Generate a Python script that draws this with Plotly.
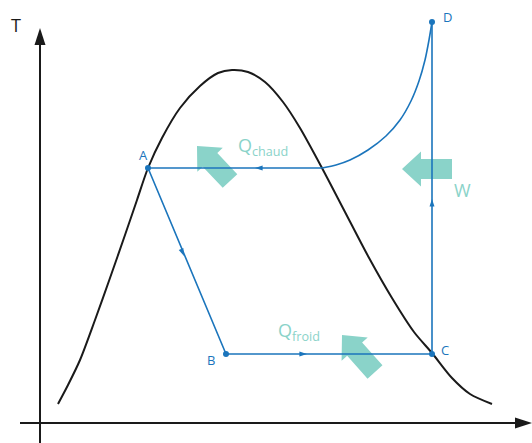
import math
import plotly.graph_objects as go

# Canvas size; one data unit equals one pixel on both axes
W_PX, H_PX = 532, 443

BLUE = "#1B75BC"
TEAL = "#8AD3C9"
BLACK = "#1A1A1A"
FONT = "Open Sans, Noto Sans, sans-serif"

# Saturation dome (s, T)
dome_s = [58, 68, 80, 95, 110, 125, 137, 148, 162, 180, 200, 218, 232, 248, 265,
          283, 300, 322, 345, 368, 392, 414, 432, 452, 470, 492]
dome_T = [39, 58, 83, 123, 165, 208, 243, 275, 305, 335, 357, 370, 373, 371, 361,
          341, 315, 275, 231, 187, 145, 111, 90, 65, 49, 39]

# Cycle state points
state_names = ["A", "B", "C", "D"]
state_s = [148, 226, 432, 432]
state_T = [275, 89, 89, 421]

# Desuperheating curve from D down to the saturated-vapour point E
superheat_s = [432, 429, 425, 419, 411, 400, 386, 368, 350, 336, 322]
superheat_T = [421, 403, 383, 362, 342, 323, 307, 293, 283, 278, 275]

# Direction markers on the cycle: (s, T) and segment each one follows
flow_s = [184, 307, 255, 432]
flow_T = [187, 89, 275, 244]
flow_seg = [("A", "B"), ("B", "C"), ("E", "A"), ("C", "D")]

# Heat / work exchange arrows: tip and tail
exch_labels = ["Q<sub>chaud</sub>", "W", "Q<sub>froid</sub>"]
exch_tip_s = [197, 402, 342]
exch_tip_T = [297, 274, 108]
exch_tail_s = [230, 452, 375]
exch_tail_T = [262, 274, 71]
exch_label_s = [236, 452, 276]
exch_label_T = [297, 253, 112]

pts = {n: (s, t) for n, s, t in zip(state_names, state_s, state_T)}
pts["E"] = (superheat_s[-1], superheat_T[-1])


def arrow_polygon(tip, tail, head_len, head_half, shaft_half):
    dx, dy = tail[0] - tip[0], tail[1] - tip[1]
    L = math.hypot(dx, dy)
    ux, uy = dx / L, dy / L
    vx, vy = -uy, ux
    hb = (tip[0] + head_len * ux, tip[1] + head_len * uy)
    xs = [tip[0],
          hb[0] + head_half * vx, hb[0] + shaft_half * vx,
          tail[0] + shaft_half * vx, tail[0] - shaft_half * vx,
          hb[0] - shaft_half * vx, hb[0] - head_half * vx, tip[0]]
    ys = [tip[1],
          hb[1] + head_half * vy, hb[1] + shaft_half * vy,
          tail[1] + shaft_half * vy, tail[1] - shaft_half * vy,
          hb[1] - shaft_half * vy, hb[1] - head_half * vy, tip[1]]
    return xs, ys


fig = go.Figure()

# Axes with arrowheads
axis_y = ((40, 0), (40, 415))
axis_x = ((20, 20), (532, 20))
for start, tip in (axis_y, axis_x):
    dx, dy = tip[0] - start[0], tip[1] - start[1]
    L = math.hypot(dx, dy)
    base = (tip[0] - 15 * dx / L, tip[1] - 15 * dy / L)
    fig.add_trace(go.Scatter(x=[start[0], base[0]], y=[start[1], base[1]], mode="lines",
                             line=dict(color=BLACK, width=2), hoverinfo="skip"))
    ax, ay = arrow_polygon(tip, start, 17, 5.5, 0.01)
    fig.add_trace(go.Scatter(x=ax[:3] + ax[-3:], y=ay[:3] + ay[-3:], mode="lines",
                             fill="toself", fillcolor=BLACK, line=dict(width=0, color=BLACK),
                             hoverinfo="skip"))

# Exchange arrows (drawn beneath the cycle lines)
for tip_s, tip_T, tail_s, tail_T in zip(exch_tip_s, exch_tip_T, exch_tail_s, exch_tail_T):
    px, py = arrow_polygon((tip_s, tip_T), (tail_s, tail_T), 19, 17.5, 10)
    fig.add_trace(go.Scatter(x=px, y=py, mode="lines", fill="toself", fillcolor=TEAL,
                             line=dict(width=0, color=TEAL), hoverinfo="skip"))

# Saturation dome
fig.add_trace(go.Scatter(x=dome_s, y=dome_T, mode="lines",
                         line=dict(color=BLACK, width=2, shape="spline", smoothing=0.8),
                         hoverinfo="skip"))

# Cycle: A -> B -> C -> D, curve D -> E, then E -> A
cyc_s = [pts["A"][0], pts["B"][0], pts["C"][0], pts["D"][0]]
cyc_T = [pts["A"][1], pts["B"][1], pts["C"][1], pts["D"][1]]
fig.add_trace(go.Scatter(x=cyc_s, y=cyc_T, mode="lines",
                         line=dict(color=BLUE, width=1.6), hoverinfo="skip"))
fig.add_trace(go.Scatter(x=superheat_s, y=superheat_T, mode="lines",
                         line=dict(color=BLUE, width=1.6, shape="spline", smoothing=0.6),
                         hoverinfo="skip"))
fig.add_trace(go.Scatter(x=[pts["E"][0], pts["A"][0]], y=[pts["E"][1], pts["A"][1]],
                         mode="lines", line=dict(color=BLUE, width=1.6), hoverinfo="skip"))

# Flow-direction markers
angles = []
for a, b in flow_seg:
    ds, dT = pts[b][0] - pts[a][0], pts[b][1] - pts[a][1]
    angles.append(math.degrees(math.atan2(ds, dT)))
fig.add_trace(go.Scatter(x=flow_s, y=flow_T, mode="markers",
                         marker=dict(symbol="arrow", size=8, color=BLUE, angle=angles,
                                     line=dict(width=0)),
                         hoverinfo="skip"))

# State points
fig.add_trace(go.Scatter(x=state_s, y=state_T, mode="markers",
                         marker=dict(size=6, color=BLUE), hoverinfo="skip"))

annotations = []
# State labels
label_off = {"A": (-5, 13), "B": (-15, -6), "C": (13, 4), "D": (15, 5)}
for n in state_names:
    ox, oy = label_off[n]
    annotations.append(dict(x=pts[n][0] + ox, y=pts[n][1] + oy, text=n, showarrow=False,
                            font=dict(family=FONT, size=13, color=BLUE),
                            xanchor="center", yanchor="middle"))
# Exchange labels
for txt, ls, lT in zip(exch_labels, exch_label_s, exch_label_T):
    annotations.append(dict(x=ls, y=lT, text=txt, showarrow=False,
                            font=dict(family=FONT, size=18, color=TEAL),
                            xanchor="left", yanchor="middle"))
# Axis titles
annotations.append(dict(x=16, y=418, text="T", showarrow=False,
                        font=dict(family=FONT, size=18, color=BLACK),
                        xanchor="center", yanchor="middle"))
annotations.append(dict(x=529, y=0, text="s", showarrow=False,
                        font=dict(family=FONT, size=16, color=BLACK),
                        xanchor="left", yanchor="top"))

fig.update_layout(
    width=W_PX, height=H_PX, autosize=False,
    margin=dict(l=0, r=0, t=0, b=0),
    paper_bgcolor="white", plot_bgcolor="white",
    showlegend=False,
    xaxis=dict(range=[0, W_PX], visible=False, fixedrange=True),
    yaxis=dict(range=[0, H_PX], visible=False, fixedrange=True),
    annotations=annotations,
)

fig.write_html("out.html", config={"displayModeBar": False})
